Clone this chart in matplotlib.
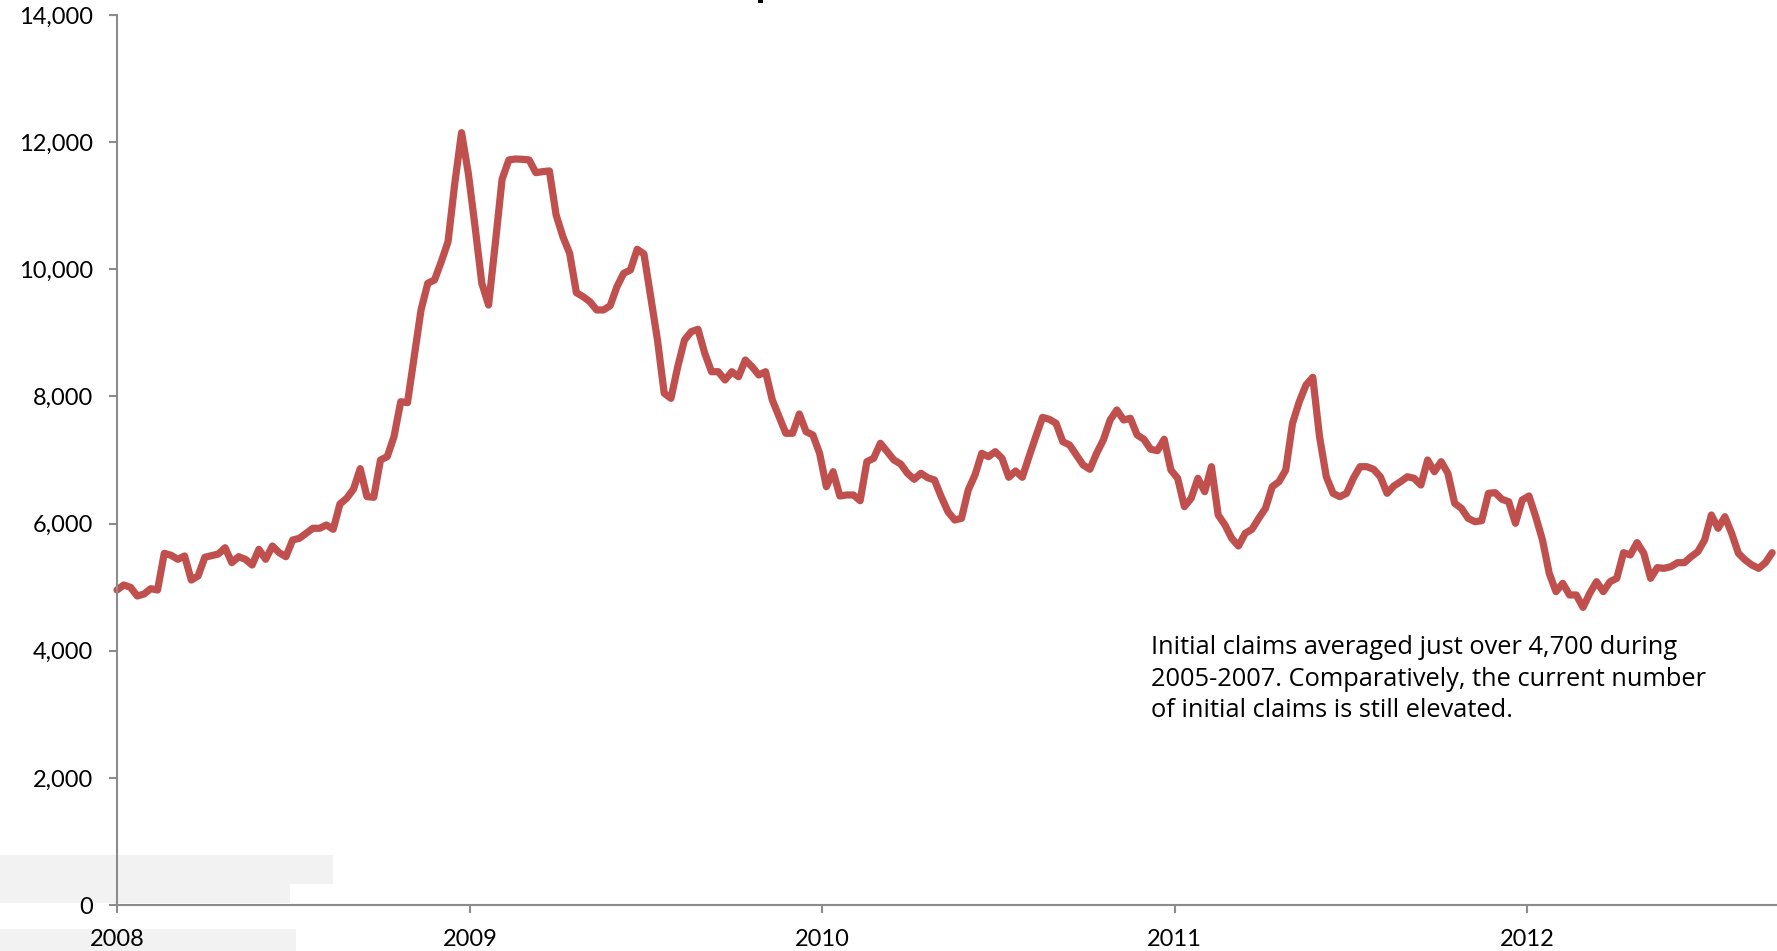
import matplotlib
matplotlib.use("Agg")
import matplotlib.pyplot as plt
from matplotlib.patches import Rectangle
import pandas as pd

# Weekly initial unemployment insurance claims, Jan 2008 - Sep 2012
claims = [
    4955, 5034, 4997, 4861, 4892, 4976, 4955, 5532, 5501, 5438,
    5490, 5112, 5175, 5470, 5495, 5521, 5620, 5385, 5479, 5438,
    5348, 5595, 5438, 5647, 5542, 5479, 5742, 5768, 5847, 5926,
    5926, 5978, 5910, 6308, 6398, 6540, 6864, 6424, 6413, 7000,
    7053, 7367, 7917, 7902, 8625, 9360, 9780, 9832, 10120, 10434,
    11353, 12149, 11510, 10670, 9780, 9438, 10409, 11416, 11720, 11735,
    11730, 11720, 11520, 11536, 11547, 10854, 10513, 10251, 9632, 9569,
    9490, 9360, 9360, 9427, 9726, 9937, 9989, 10315, 10241, 9569,
    8888, 8049, 7970, 8467, 8888, 9019, 9056, 8679, 8389, 8389,
    8259, 8389, 8310, 8573, 8467, 8337, 8389, 7944, 7681, 7420,
    7420, 7724, 7445, 7394, 7105, 6580, 6816, 6434, 6450, 6450,
    6360, 6974, 7027, 7263, 7131, 7000, 6937, 6791, 6696, 6791,
    6721, 6686,
    6423, 6187, 6056, 6082, 6528, 6764, 7105, 7053, 7131, 7027,
    6728, 6827, 6728, 7053, 7367, 7671, 7640, 7577, 7288, 7236,
    7079, 6922, 6854, 7105, 7315, 7629, 7787, 7629, 7656, 7394,
    7326, 7169, 7147, 7326, 6843, 6712, 6266, 6398, 6712, 6502,
    6895, 6135, 5978, 5768, 5647, 5847, 5910, 6082, 6240, 6580,
    6659, 6843, 7577, 7917, 8180, 8301, 7367, 6737, 6476, 6423,
    6476, 6712, 6895, 6895, 6854, 6737, 6476, 6591, 6659, 6737,
    6712, 6607, 7000, 6816, 6974, 6791, 6319, 6240, 6082, 6030,
    6045, 6476, 6486, 6382, 6344, 6004, 6371, 6434, 6108, 5742,
    5218, 4929, 5060, 4877, 4877, 4682, 4903, 5086, 4929, 5086,
    5139, 5542, 5506, 5700, 5532, 5139, 5307, 5296, 5322, 5385,
    5385, 5479, 5558, 5742, 6135, 5926, 6108, 5847, 5532, 5427,
    5348, 5296, 5385, 5542,
]
start_date = "2008-01-01"
end_date = "2012-09-16"
year_labels = ["2008", "2009", "2010", "2011", "2012"]
y_ticks = [0, 2000, 4000, 6000, 8000, 10000, 12000, 14000]
note = ("Initial claims averaged just over 4,700 during\n"
        "2005-2007. Comparatively, the current number\n"
        "of initial claims is still elevated.")

weeks = pd.date_range(start_date, periods=len(claims), freq="7D")

plt.rcParams["font.family"] = ["Lato", "DejaVu Sans"]

W, H = 1777, 951
fig = plt.figure(figsize=(W / 100, H / 100), dpi=100)
fig.patch.set_facecolor("white")

# light grey blocks in the lower-left corner
for x1, ytop, ybot in [(333, 855, 884), (290, 884, 903), (296, 929, 951)]:
    fig.patches.append(Rectangle((0, 1 - ybot / H), x1 / W, (ybot - ytop) / H,
                                 transform=fig.transFigure, facecolor="#F2F2F2",
                                 edgecolor="none", zorder=-1))
# clipped heading fragment at the very top
fig.patches.append(Rectangle((758 / W, 1 - 3 / H), 5 / W, 3 / H,
                             transform=fig.transFigure, facecolor="black",
                             edgecolor="none", zorder=5))

ax = fig.add_axes([117 / W, 1 - 905 / H, 1 - 117 / W, (905 - 15) / H])
ax.set_facecolor("none")

ax.plot(weeks, claims, color="#C0504D", linewidth=5.2,
        solid_joinstyle="round", solid_capstyle="round", clip_on=False)

ax.set_ylim(0, 14000)
ax.set_xlim(pd.Timestamp(start_date), pd.Timestamp(end_date))
ax.set_yticks(y_ticks)
ax.set_yticklabels([f"{v:,}" for v in y_ticks])
ax.set_xticks([pd.Timestamp(f"{y}-01-01") for y in year_labels])
ax.set_xticklabels(year_labels)

for side in ("top", "right"):
    ax.spines[side].set_visible(False)
for side in ("left", "bottom"):
    ax.spines[side].set_color("#8C8C8C")
    ax.spines[side].set_linewidth(1.5)

ax.tick_params(axis="both", direction="out", length=5.5, width=1.5,
               color="#8C8C8C", labelsize=17, labelcolor="black", pad=12)

fig.text(1151 / W, 1 - 679 / H, note, ha="left", va="center",
         fontsize=18.3, color="black", linespacing=1.36,
         family=["Open Sans", "DejaVu Sans"])

fig.savefig("out.png", dpi=100)
